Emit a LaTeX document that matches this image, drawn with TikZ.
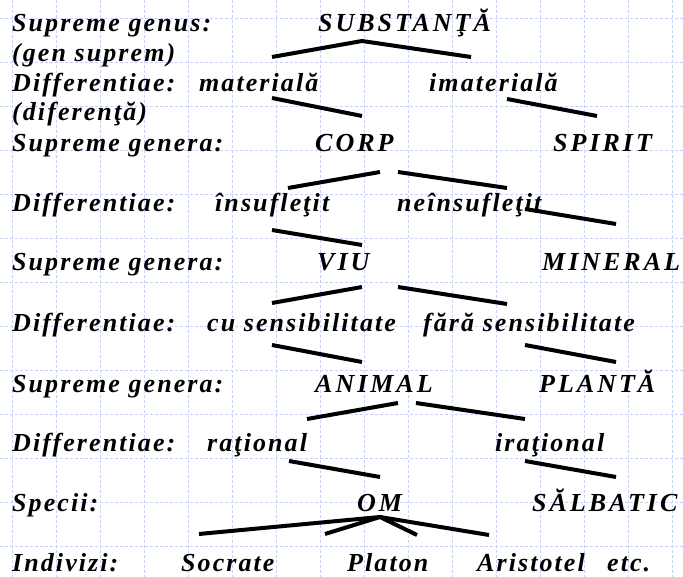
\documentclass[tikz,border=0pt]{standalone}
\usepackage{fontspec}
\newfontfamily\tflow{Liberation Serif}[LetterSpace=8]
\newfontfamily\tfcap{Liberation Serif}[LetterSpace=11.5]
\definecolor{gridblue}{RGB}{198,210,250}
\tikzset{
  lbl/.style={anchor=base west, inner sep=0pt, font=\fontsize{26}{30}\selectfont\tflow\bfseries\itshape},
  caplbl/.style={anchor=base west, inner sep=0pt, font=\fontsize{26}{30}\selectfont\tfcap\bfseries\itshape},
  branch/.style={line width=4pt, black},
  gridline/.style={gridblue, line width=0.8pt, dash pattern=on 3pt off 2pt}
}
\begin{document}
\begin{tikzpicture}[x=1pt,y=-1pt]
\useasboundingbox (0,0) rectangle (683,577);
\fill[white] (0,0) rectangle (683,577);
% grid
\foreach \gx in {12,56,...,672} { \draw[gridline] (\gx,0) -- (\gx,577); }
\foreach \gy in {18,62,...,546} { \draw[gridline] (0,\gy) -- (683,\gy); }

% row labels
\node[lbl] (r1) at (12,32) {Supreme genus:};
\node[lbl] (r2) at (12,62) {(gen suprem)};
\node[lbl] (r3) at (12,92) {Differentiae:};
\node[lbl] (r4) at (12,121) {(diferenţă)};
\node[lbl] (r5) at (12,152) {Supreme genera:};
\node[lbl] (r6) at (12,212) {Differentiae:};
\node[lbl] (r7) at (12,271) {Supreme genera:};
\node[lbl] (r8) at (12,332) {Differentiae:};
\node[lbl] (r9) at (12,392) {Supreme genera:};
\node[lbl] (r10) at (12,451) {Differentiae:};
\node[lbl] (r11) at (12,511) {Specii:};
\node[lbl] (r12) at (12,571) {Indivizi:};

% tree labels
\node[caplbl] (subst) at (318,32) {SUBSTANŢĂ};
\node[lbl] (mat) at (199,92) {materială};
\node[lbl] (imat) at (429,92) {imaterială};
\node[caplbl] (corp) at (315,152) {CORP};
\node[caplbl] (spirit) at (553,152) {SPIRIT};
\node[lbl] (insuf) at (215,212) {însufleţit};
\node[lbl] (neinsuf) at (397,212) {neînsufleţit};
\node[caplbl] (viu) at (317,271) {VIU};
\node[caplbl] (mineral) at (542,271) {MINERAL};
\node[lbl] (cusens) at (207,332) {cu sensibilitate};
\node[lbl] (farasens) at (423,332) {fără sensibilitate};
\node[caplbl] (animal) at (315,392) {ANIMAL};
\node[caplbl] (planta) at (539,392) {PLANTĂ};
\node[lbl] (rational) at (207,451) {raţional};
\node[lbl] (irational) at (495,451) {iraţional};
\node[caplbl] (om) at (357,511) {OM};
\node[caplbl] (salbatic) at (532,511) {SĂLBATIC};
\node[lbl] (socrate) at (181,571) {Socrate};
\node[lbl] (platon) at (347,571) {Platon};
\node[lbl] (aristotel) at (477,571) {Aristotel};
\node[lbl] (etc) at (607,571) {etc.};

% connector end points
\coordinate (s0) at (362,41);
\coordinate (s1) at (272,57);
\coordinate (s2) at (471,57);
\coordinate (m1) at (272,98);  \coordinate (m2) at (362,116);
\coordinate (i1) at (507,99);  \coordinate (i2) at (597,116);
\coordinate (c1) at (288,188); \coordinate (c2) at (380,172);
\coordinate (c3) at (398,172); \coordinate (c4) at (507,188);
\coordinate (n1) at (272,230); \coordinate (n2) at (362,245);
\coordinate (n3) at (525,209); \coordinate (n4) at (616,224);
\coordinate (v1) at (272,303); \coordinate (v2) at (362,287);
\coordinate (v3) at (398,287); \coordinate (v4) at (507,304);
\coordinate (e1) at (272,345); \coordinate (e2) at (362,362);
\coordinate (e3) at (525,345); \coordinate (e4) at (616,362);
\coordinate (a1) at (307,419); \coordinate (a2) at (398,403);
\coordinate (a3) at (416,403); \coordinate (a4) at (525,419);
\coordinate (t1) at (289,461); \coordinate (t2) at (380,477);
\coordinate (t3) at (525,461); \coordinate (t4) at (616,477);
\coordinate (o0) at (380,517);
\coordinate (o1) at (199,534); \coordinate (o2) at (325,534);
\coordinate (o3) at (417,535); \coordinate (o4) at (489,535);

\draw[branch] (s1) -- (s0) -- (s2);
\draw[branch] (m1) -- (m2);
\draw[branch] (i1) -- (i2);
\draw[branch] (c1) -- (c2);
\draw[branch] (c3) -- (c4);
\draw[branch] (n1) -- (n2);
\draw[branch] (n3) -- (n4);
\draw[branch] (v1) -- (v2);
\draw[branch] (v3) -- (v4);
\draw[branch] (e1) -- (e2);
\draw[branch] (e3) -- (e4);
\draw[branch] (a1) -- (a2);
\draw[branch] (a3) -- (a4);
\draw[branch] (t1) -- (t2);
\draw[branch] (t3) -- (t4);
\draw[branch] (o1) -- (o0) -- (o4);
\draw[branch] (o2) -- (o0) -- (o3);
\end{tikzpicture}
\end{document}
